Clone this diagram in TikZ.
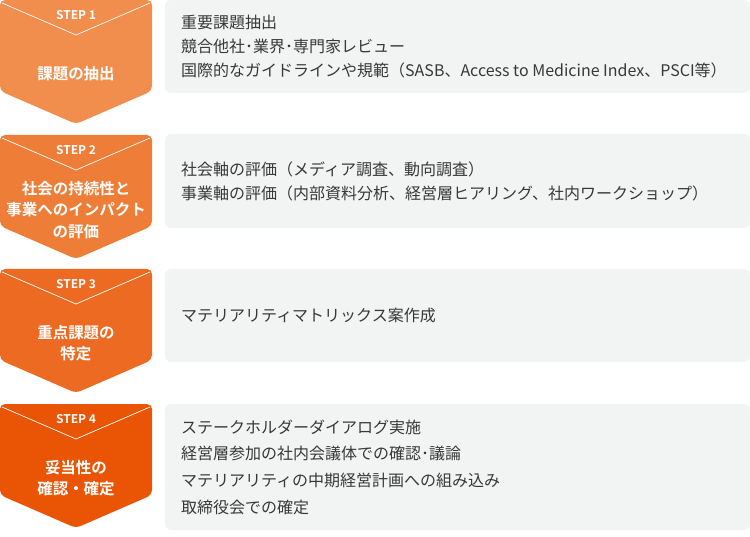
\documentclass[tikz,border=0pt]{standalone}
\usepackage{fontspec}
\setmainfont{Noto Sans CJK JP}[BoldFont={Noto Sans CJK JP Bold}]
\definecolor{stepA}{HTML}{F18E4D}
\definecolor{stepB}{HTML}{EE7D37}
\definecolor{stepC}{HTML}{EC6A21}
\definecolor{stepD}{HTML}{E95504}
\definecolor{boxgray}{HTML}{F2F3F3}
\definecolor{textgray}{HTML}{383838}
\begin{document}
\begin{tikzpicture}[x=1pt,y=-1pt,
    chevron/.style={rounded corners=5pt},
    vline/.style={white,line width=0.7pt},
    steptag/.style={text=white,font=\fontsize{12}{14}\selectfont\bfseries},
    stepname/.style={text=white,align=center,font=\fontsize{15.5}{21.5}\selectfont\bfseries},
    infobox/.style={fill=boxgray,rounded corners=6pt},
    infotext/.style={anchor=west,align=left,text=textgray,inner sep=0pt,font=\fontsize{16}{24}\selectfont}]
    \useasboundingbox (0,0) rectangle (750,537);
    % step 1
    \begin{scope}[shift={(0,0)}]
      \fill[stepA,chevron] (0,0) -- (152,0) -- (152,91) -- (76,124) -- (0,91) -- cycle;
      \draw[vline] (2,3) -- (76,35) -- (150,3);
      \node[steptag] (tag1) at (76,15) {STEP 1};
      \node[stepname] (name1) at (76,74) {課題の抽出};
    \end{scope}
    % step 2
    \begin{scope}[shift={(0,135)}]
      \fill[stepB,chevron] (0,0) -- (152,0) -- (152,91) -- (76,124) -- (0,91) -- cycle;
      \draw[vline] (2,3) -- (76,35) -- (150,3);
      \node[steptag] (tag2) at (76,15) {STEP 2};
      \node[stepname] (name2) at (76,75) {社会の持続性と\\事業へのインパクト\\の評価};
    \end{scope}
    % step 3
    \begin{scope}[shift={(0,269)}]
      \fill[stepC,chevron] (0,0) -- (152,0) -- (152,91) -- (76,124) -- (0,91) -- cycle;
      \draw[vline] (2,3) -- (76,35) -- (150,3);
      \node[steptag] (tag3) at (76,15) {STEP 3};
      \node[stepname] (name3) at (76,74) {重点課題の\\特定};
    \end{scope}
    % step 4
    \begin{scope}[shift={(0,404)}]
      \fill[stepD,chevron] (0,0) -- (152,0) -- (152,91) -- (76,124) -- (0,91) -- cycle;
      \draw[vline] (2,3) -- (76,35) -- (150,3);
      \node[steptag] (tag4) at (76,15) {STEP 4};
      \node[stepname] (name4) at (76,74) {妥当性の\\確認・確定};
    \end{scope}
    % details
    \fill[infobox] (165,0) rectangle (750,93);
    \node[infotext] (info1) at (181,46.5) {重要課題抽出\\競合他社･業界･専門家レビュー\\国際的なガイドラインや規範（SASB、Access to Medicine Index、PSCI等）};
    \fill[infobox] (165,134) rectangle (750,228);
    \node[infotext] (info2) at (181,181) {社会軸の評価（メディア調査、動向調査）\\事業軸の評価（内部資料分析、経営層ヒアリング、社内ワークショップ）};
    \fill[infobox] (165,269) rectangle (750,362);
    \node[infotext] (info3) at (181,315.5) {マテリアリティマトリックス案作成};
    \fill[infobox] (165,404) rectangle (750,530);
    \node[infotext,font=\fontsize{16}{26.7}\selectfont] (info4) at (181,467) {ステークホルダーダイアログ実施\\経営層参加の社内会議体での確認･議論\\マテリアリティの中期経営計画への組み込み\\取締役会での確定};
\end{tikzpicture}
\end{document}
